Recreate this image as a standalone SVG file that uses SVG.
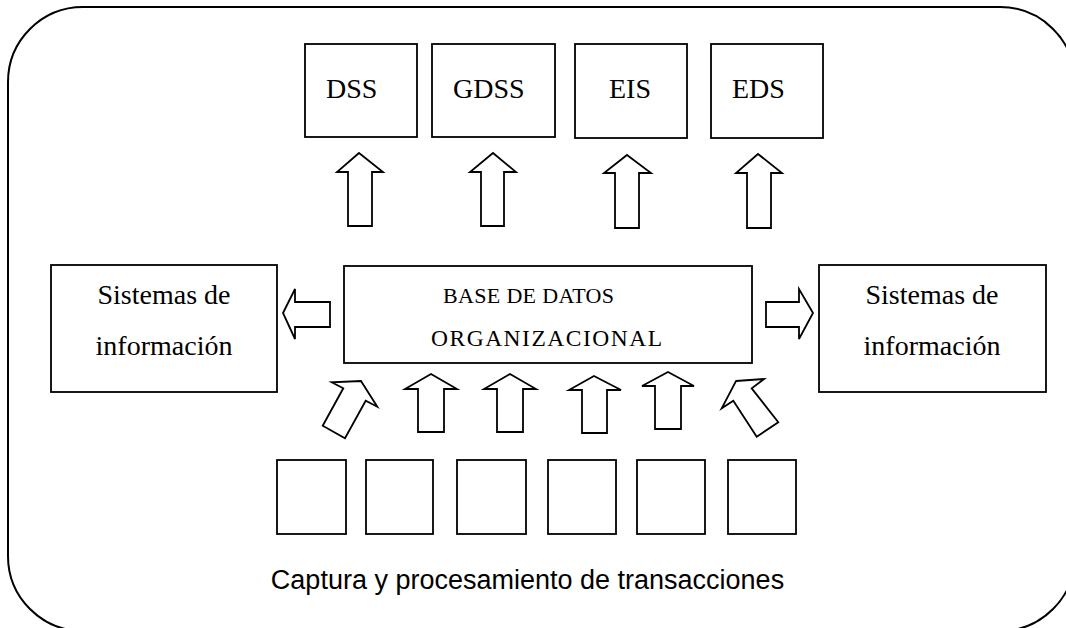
<svg xmlns="http://www.w3.org/2000/svg" width="1066" height="628" viewBox="0 0 1066 628">
<style>
.box{fill:#fff;stroke:#000;stroke-width:1.8}
.arr{fill:#fff;stroke:#000;stroke-width:1.8;stroke-linejoin:miter}
.t{font-family:"Liberation Serif","Times New Roman",serif;fill:#000}
.s{font-family:"Liberation Sans",Arial,sans-serif;fill:#000}
</style>
<rect width="1066" height="628" fill="#fff"/>
<g id="frame"><rect x="8" y="7" width="1067" height="624" rx="75" ry="75" fill="none" stroke="#000" stroke-width="2"/></g>
<g id="dss"><rect class="box" x="305" y="44" width="112" height="93"/><text class="t" x="326" y="98" font-size="28">DSS</text></g>
<g id="gdss"><rect class="box" x="432" y="44" width="123" height="93"/><text class="t" x="453" y="98" font-size="28">GDSS</text></g>
<g id="eis"><rect class="box" x="575" y="44" width="112" height="94"/><text class="t" x="609" y="98" font-size="28">EIS</text></g>
<g id="eds"><rect class="box" x="711" y="44" width="112" height="94"/><text class="t" x="732" y="98" font-size="28">EDS</text></g>
<g id="si-left"><rect class="box" x="51" y="265" width="226" height="127"/><text class="t" x="164" y="304" font-size="28" text-anchor="middle">Sistemas de</text><text class="t" x="164" y="355" font-size="28" text-anchor="middle">información</text></g>
<g id="bdo"><rect class="box" x="344" y="266" width="408" height="97"/><text class="t" x="443" y="303" font-size="22" textLength="171" lengthAdjust="spacing">BASE DE DATOS</text><text class="t" x="431" y="346" font-size="23.5" textLength="231" lengthAdjust="spacing">ORGANIZACIONAL</text></g>
<g id="si-right"><rect class="box" x="819" y="265" width="227" height="127"/><text class="t" x="932" y="304" font-size="28" text-anchor="middle">Sistemas de</text><text class="t" x="932" y="355" font-size="28" text-anchor="middle">información</text></g>
<g id="tps">
<rect class="box" x="277" y="460" width="69" height="74"/>
<rect class="box" x="366" y="460" width="67" height="74"/>
<rect class="box" x="457" y="460" width="69" height="74"/>
<rect class="box" x="548" y="460" width="68" height="74"/>
<rect class="box" x="637" y="460" width="68" height="74"/>
<rect class="box" x="728" y="460" width="68" height="74"/>
<text class="s" x="527.5" y="589" font-size="27" text-anchor="middle">Captura y procesamiento de transacciones</text>
</g>
<g id="connectors">
<polygon class="arr" points="359,153 383,172 372,172 372,226 348,226 348,172 337,172"/>
<polygon class="arr" points="493,153 516,172 504,172 504,226 481,226 481,172 470,172"/>
<polygon class="arr" points="627,155 651,173 639,173 639,228 615,228 615,173 604,173"/>
<polygon class="arr" points="758,154 782,173 771,173 771,228 747,228 747,173 736,173"/>
<polygon class="arr" points="283,313 295,289 295,302 330,302 330,327 295,327 295,339"/>
<polygon class="arr" points="813,313 799,289 799,302 766,302 766,327 799,327 799,339"/>
<polygon class="arr" points="361,381 377.3,406.7 365.7,400.7 345,438.3 322.7,425.7 343.3,388.3 331.7,382.3"/>
<polygon class="arr" points="431,374 457,389 444,389 444,432 418,432 418,389 405,389"/>
<polygon class="arr" points="510,374 536,389 523,389 523,432 497,432 497,389 484,389"/>
<polygon class="arr" points="594,376 621,390 607,390 607,433 582,433 582,390 569,390"/>
<polygon class="arr" points="668,372 694,386 681,386 681,429 655,429 655,386 642,386"/>
<polygon class="arr" points="736,381 764,379 751.7,388.3 778.3,422.3 756.7,436.7 733.3,400.7 721.7,408.3"/>
</g>
</svg>
